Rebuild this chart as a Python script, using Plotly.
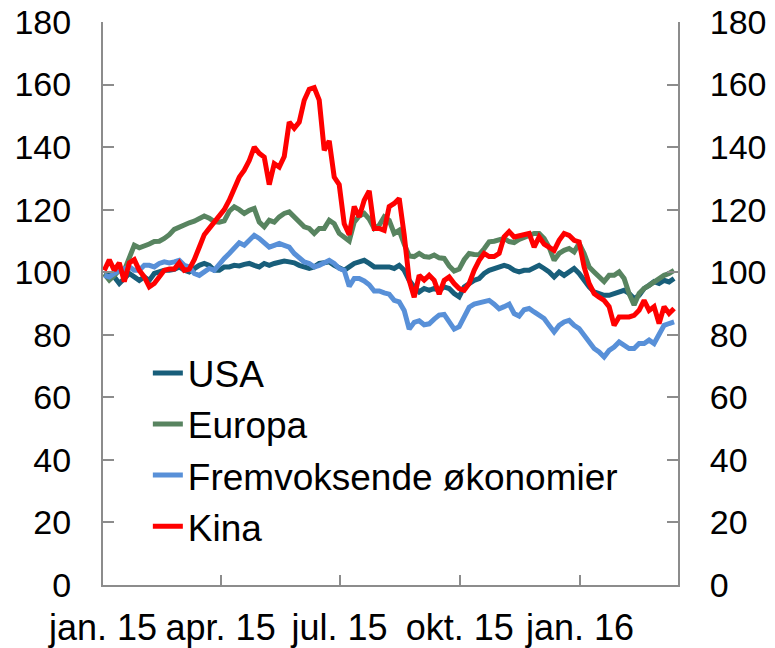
import pandas as pd
import plotly.graph_objects as go

start_date = "2015-01-02"
end_date = "2016-03-13"

usa = [99.6, 99.6, 98.5, 96.4, 98.0, 99.6, 98.5, 97.4, 98.5, 97.4,
       99.6, 100.1, 100.6, 100.6, 100.9, 101.7, 100.6, 100.1, 101.2, 102.2,
       102.8, 102.2, 100.6, 100.6, 101.7, 101.7, 102.2, 102.0, 102.5, 102.8,
       102.2, 101.7, 102.8, 102.2, 102.8, 103.3, 103.6, 103.3, 103.0, 102.2,
       101.7, 101.2, 101.7, 102.8, 103.0, 103.3, 102.2, 101.2, 100.6, 101.7,
       102.8, 103.3, 103.8, 102.8, 101.7, 101.7, 101.7, 101.7, 101.2, 102.2,
       100.6, 97.4, 95.3, 93.7, 94.8, 94.2, 94.8, 94.2, 95.3, 94.8,
       93.2, 92.1, 95.3, 96.4, 97.4, 98.0, 99.6, 100.6, 101.2, 101.7,
       102.2, 101.7, 100.6, 100.1, 100.6, 100.6, 101.2, 102.2, 101.2, 100.1,
       98.5, 100.1, 99.0, 100.1, 101.2, 99.6, 97.4, 95.3, 93.7, 93.2,
       92.6, 92.6, 93.2, 93.7, 94.2, 93.2, 91.6, 92.6, 94.8, 95.8,
       97.0, 96.4, 97.4, 96.9, 98.0]

europa = [99.5, 97.5, 99.0, 100.6, 100.6, 105.0, 108.6, 107.8, 108.2, 109.0,
          109.8, 109.9, 110.8, 112.0, 113.7, 114.5, 115.2, 115.8, 116.3, 117.3,
          118.0, 117.3, 116.2, 116.0, 116.4, 119.5, 120.9, 120.0, 118.8, 119.8,
          120.4, 116.0, 114.5, 116.6, 116.0, 117.7, 118.8, 119.3, 117.7, 116.6,
          114.5, 114.0, 112.4, 114.0, 114.0, 116.6, 115.5, 112.4, 111.3, 110.0,
          116.0, 118.0, 118.8, 117.0, 114.0, 115.0, 117.7, 116.6, 112.4, 113.4,
          109.0, 105.2, 105.0, 106.0, 105.0, 104.8, 105.5, 104.6, 104.4, 102.0,
          100.4, 101.0, 104.0, 106.0, 105.7, 105.6, 107.5, 109.7, 109.9, 110.5,
          110.8, 109.8, 109.5, 110.5, 111.3, 111.8, 112.4, 112.4, 110.8, 108.0,
          103.8, 106.0, 107.0, 107.6, 106.5, 109.2, 106.0, 101.7, 100.1, 98.5,
          97.0, 99.0, 99.0, 100.1, 98.0, 93.2, 89.5, 93.2, 94.8, 95.8,
          97.0, 98.0, 99.0, 99.6, 100.6]

fremvoksende = [99.0, 98.5, 99.6, 100.6, 101.1, 101.7, 100.6, 100.6, 102.2, 102.2,
                101.7, 102.8, 103.3, 103.0, 103.3, 103.8, 102.2, 101.7, 99.6, 99.0,
                100.1, 101.2, 100.6, 102.8, 104.4, 106.0, 107.6, 109.4, 108.6, 110.2,
                111.8, 110.8, 109.2, 108.0, 108.6, 109.2, 108.6, 108.0, 106.0, 104.4,
                103.3, 102.8, 101.7, 102.2, 102.8, 103.8, 102.8, 101.2, 100.6, 95.5,
                98.0, 98.0, 97.2, 96.0, 94.0, 94.0, 93.4, 93.0, 91.0, 90.5,
                87.8, 81.8, 84.0, 84.5, 83.2, 83.5, 85.0, 86.3, 86.5, 84.0,
                81.8, 82.6, 86.0, 88.8, 89.8, 90.3, 90.8, 91.0, 89.8, 88.3,
                89.0, 89.8, 86.8, 86.0, 88.0, 88.4, 87.3, 86.2, 85.2, 83.0,
                80.9, 83.0, 84.1, 84.6, 83.0, 82.0, 79.9, 77.2, 75.6, 74.5,
                72.9, 75.0, 76.1, 77.7, 76.7, 75.6, 75.6, 77.2, 77.2, 78.3,
                77.2, 80.4, 83.0, 83.6, 84.1]

kina = [100.6, 104.0, 100.6, 103.0, 97.0, 103.0, 104.0, 100.6, 98.5, 95.3,
        96.4, 98.5, 100.6, 101.0, 101.0, 103.0, 100.6, 101.0, 104.0, 108.0,
        112.0, 114.0, 116.0, 117.7, 120.0, 123.0, 126.7, 130.4, 132.6, 135.7,
        140.0, 138.0, 136.8, 128.0, 134.7, 133.6, 137.0, 148.0, 146.0, 148.0,
        155.0, 158.5, 159.0, 155.0, 139.0, 142.0, 130.4, 128.0, 115.5, 112.0,
        121.0, 117.7, 123.0, 126.0, 114.0, 114.0, 113.4, 121.0, 122.0, 123.6,
        112.0, 97.4, 92.0, 99.0, 97.5, 99.0, 97.4, 93.0, 97.4, 98.5,
        96.4, 94.8, 94.2, 96.4, 100.6, 103.8, 106.0, 105.0, 105.0, 106.0,
        111.3, 113.0, 111.3, 111.8, 112.0, 112.4, 108.0, 111.3, 109.0, 108.0,
        107.0, 110.2, 112.4, 111.8, 110.2, 109.7, 101.7, 96.4, 93.2, 92.0,
        91.0, 89.0, 83.0, 85.7, 85.7, 85.7, 86.2, 87.8, 91.0, 87.8,
        89.0, 83.6, 89.0, 86.8, 88.4]

tick_dates = ["2015-01-01", "2015-04-01", "2015-07-01", "2015-10-01", "2016-01-01"]
tick_labels = ["jan. 15", "apr. 15", "jul. 15", "okt. 15", "jan. 16"]
y_ticks = [0, 20, 40, 60, 80, 100, 120, 140, 160, 180]

series = [
    ("USA", usa, "#185E7A"),
    ("Europa", europa, "#588460"),
    ("Fremvoksende økonomier", fremvoksende, "#5890D8"),
    ("Kina", kina, "#FF0000"),
]

FONT = "Liberation Sans, Arial, sans-serif"
AX = "#8C8C8C"

fig = go.Figure()
for i, (name, vals, col) in enumerate(series):
    dates = pd.date_range(start_date, end_date, periods=len(vals))
    fig.add_trace(go.Scatter(
        x=dates, y=vals, name=name, mode="lines",
        line=dict(color=col, width=5),
        legendgroup=name,
        yaxis="y2" if i == len(series) - 1 else "y",
    ))

common_y = dict(range=[0, 180], tickvals=y_ticks, ticks="inside", ticklen=11,
                tickwidth=1.5, tickcolor=AX, showline=True, linecolor=AX,
                linewidth=2, showgrid=False, zeroline=False, automargin=False,
                tickfont=dict(family=FONT, size=34, color="black"),
                ticklabelstandoff=23, ticklabeloverflow="allow",
                fixedrange=True)

fig.update_layout(
    width=775, height=648,
    margin=dict(l=103, r=97, t=22, b=63),
    paper_bgcolor="white", plot_bgcolor="white",
    showlegend=True,
    legend=dict(x=0.078, y=0.431, xanchor="left", yanchor="top",
                font=dict(family=FONT, size=37, color="black"),
                bgcolor="rgba(0,0,0,0)", tracegroupgap=0,
                itemwidth=30),
    xaxis=dict(range=["2015-01-01", "2016-03-16"], tickvals=tick_dates,
               ticktext=tick_labels, ticks="inside", ticklen=10, tickwidth=1.5,
               tickcolor=AX, showline=True, linecolor=AX, linewidth=2,
               showgrid=False, zeroline=False, automargin=False,
               tickfont=dict(family=FONT, size=36, color="black"),
               ticklabelstandoff=10, ticklabeloverflow="allow"),
    yaxis=dict(side="left", **common_y),
    yaxis2=dict(side="right", overlaying="y", **common_y),
)

# remove the page's default body margin so the figure fills the window exactly
fig.write_html("out.html",
               config={"displayModeBar": False},
               post_script="document.body.style.margin='0';document.body.style.overflow='hidden';")
